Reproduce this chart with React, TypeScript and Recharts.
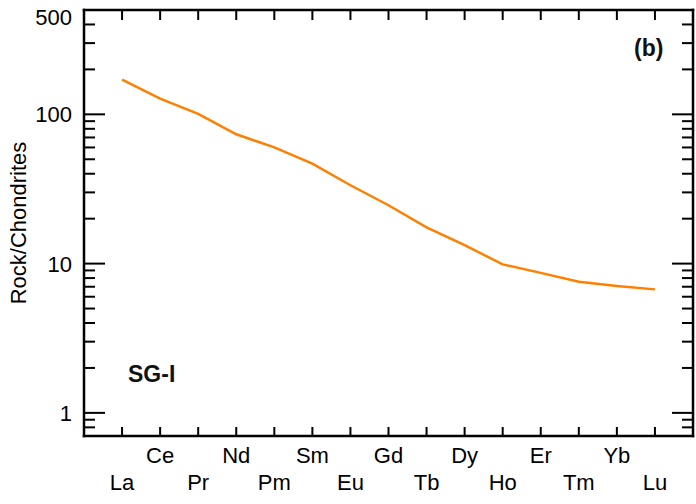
import { Line, LineChart, XAxis, YAxis } from "recharts";

// Chondrite-normalised REE pattern for sample SG-I, log y axis, framed plot
// with inward ticks on all four sides.

const ELEMENTS = ["La", "Ce", "Pr", "Nd", "Pm", "Sm", "Eu", "Gd", "Tb", "Dy", "Ho", "Er", "Tm", "Yb", "Lu"];
const SG_I = [170.6, 127.3, 100.8, 73.5, 60.1, 46.8, 33.5, 24.6, 17.5, 13.3, 9.88, 8.67, 7.55, 7.08, 6.72];

const X_TICKS = ELEMENTS.map((_, i) => i + 1);
const Y_TICKS = [0.7, 0.8, 0.9, 1, 2, 3, 4, 5, 6, 7, 8, 9, 10, 20, 30, 40, 50, 60, 70, 80, 90, 100, 200, 300, 400, 500];
const Y_MAJOR = [1, 10, 100];
const Y_LABELS = [1, 10, 100, 500];

const FONT = "'Liberation Sans', Arial, Helvetica, sans-serif";
const INK = "#000";

const data = ELEMENTS.map((el, i) => ({ x: i + 1, el, value: SG_I[i] }));

function BottomTick(props: any) {
  const { x, y, payload } = props;
  const i = payload.value - 1;
  const upper = i % 2 === 1;
  return (
    <g>
      <line x1={x} x2={x} y1={y} y2={y - 9} stroke={INK} strokeWidth={2} />
      <text x={x} y={y + (upper ? 27 : 54)} textAnchor="middle" fontFamily={FONT} fontSize={22} fill={INK}>
        {ELEMENTS[i]}
      </text>
    </g>
  );
}

function TopTick(props: any) {
  const { x, y } = props;
  return <line x1={x} x2={x} y1={y} y2={y + 10} stroke={INK} strokeWidth={2} />;
}

function LeftTick(props: any) {
  const { x, y, payload } = props;
  const v = payload.value;
  const len = Y_MAJOR.includes(v) ? 21 : 11;
  return (
    <g>
      <line x1={x} x2={x + len} y1={y} y2={y} stroke={INK} strokeWidth={2} />
      {Y_LABELS.includes(v) && (
        <text
          x={x - 12}
          y={y + (v === 500 ? 7 : 0)}
          dy="0.36em"
          textAnchor="end"
          fontFamily={FONT}
          fontSize={22}
          fill={INK}
        >
          {v}
        </text>
      )}
    </g>
  );
}

function RightTick(props: any) {
  const { x, y, payload } = props;
  const len = Y_MAJOR.includes(payload.value) ? 21 : 11;
  return <line x1={x} x2={x - len} y1={y} y2={y} stroke={INK} strokeWidth={2} />;
}

const axisLine = { stroke: INK, strokeWidth: 2.5, strokeLinecap: "square" as const };

export default function App() {
  return (
    <div style={{ position: "absolute", left: 0, top: 0, width: 696, height: 504, background: "#fff" }}>
      <LineChart width={696} height={504} data={data} margin={{ top: 9, right: 2, bottom: 0, left: 0 }}>
        <XAxis
          dataKey="x"
          type="number"
          domain={[0, 16]}
          ticks={X_TICKS}
          interval={0}
          height={68}
          tickSize={0}
          tickMargin={0}
          tickLine={false}
          axisLine={axisLine}
          tick={BottomTick}
        />
        <XAxis
          xAxisId="top"
          orientation="top"
          dataKey="x"
          type="number"
          domain={[0, 16]}
          ticks={X_TICKS}
          interval={0}
          height={1}
          tickSize={0}
          tickMargin={0}
          tickLine={false}
          axisLine={axisLine}
          tick={TopTick}
        />
        <YAxis
          type="number"
          scale="log"
          domain={[0.7, 500]}
          allowDataOverflow
          ticks={Y_TICKS}
          interval={0}
          width={84}
          tickSize={0}
          tickMargin={0}
          tickLine={false}
          axisLine={axisLine}
          tick={LeftTick}
          label={{
            content: (p: any) => {
              const vb = p.viewBox;
              const cx = vb.x + 26;
              const cy = vb.y + vb.height / 2;
              return (
                <text
                  x={cx}
                  y={cy}
                  transform={`rotate(-90, ${cx}, ${cy})`}
                  textAnchor="middle"
                  fontFamily={FONT}
                  fontSize={22}
                  fill={INK}
                >
                  Rock/Chondrites
                </text>
              );
            },
          }}
        />
        <YAxis
          yAxisId="right"
          orientation="right"
          type="number"
          scale="log"
          domain={[0.7, 500]}
          allowDataOverflow
          ticks={Y_TICKS}
          interval={0}
          width={1}
          tickSize={0}
          tickMargin={0}
          tickLine={false}
          axisLine={axisLine}
          tick={RightTick}
        />
        <Line
          type="linear"
          dataKey="value"
          stroke="#ff8000"
          strokeWidth={2.5}
          dot={false}
          isAnimationActive={false}
        />
      </LineChart>
      <svg
        width={696}
        height={504}
        style={{ position: "absolute", left: 0, top: 0, pointerEvents: "none" }}
      >
        <text x={128} y={382} fontFamily={FONT} fontSize={23} fontWeight="bold" fill="#111">
          SG-I
        </text>
        <text x={634} y={56} fontFamily={FONT} fontSize={23} fontWeight="bold" fill="#111">
          (b)
        </text>
      </svg>
    </div>
  );
}
